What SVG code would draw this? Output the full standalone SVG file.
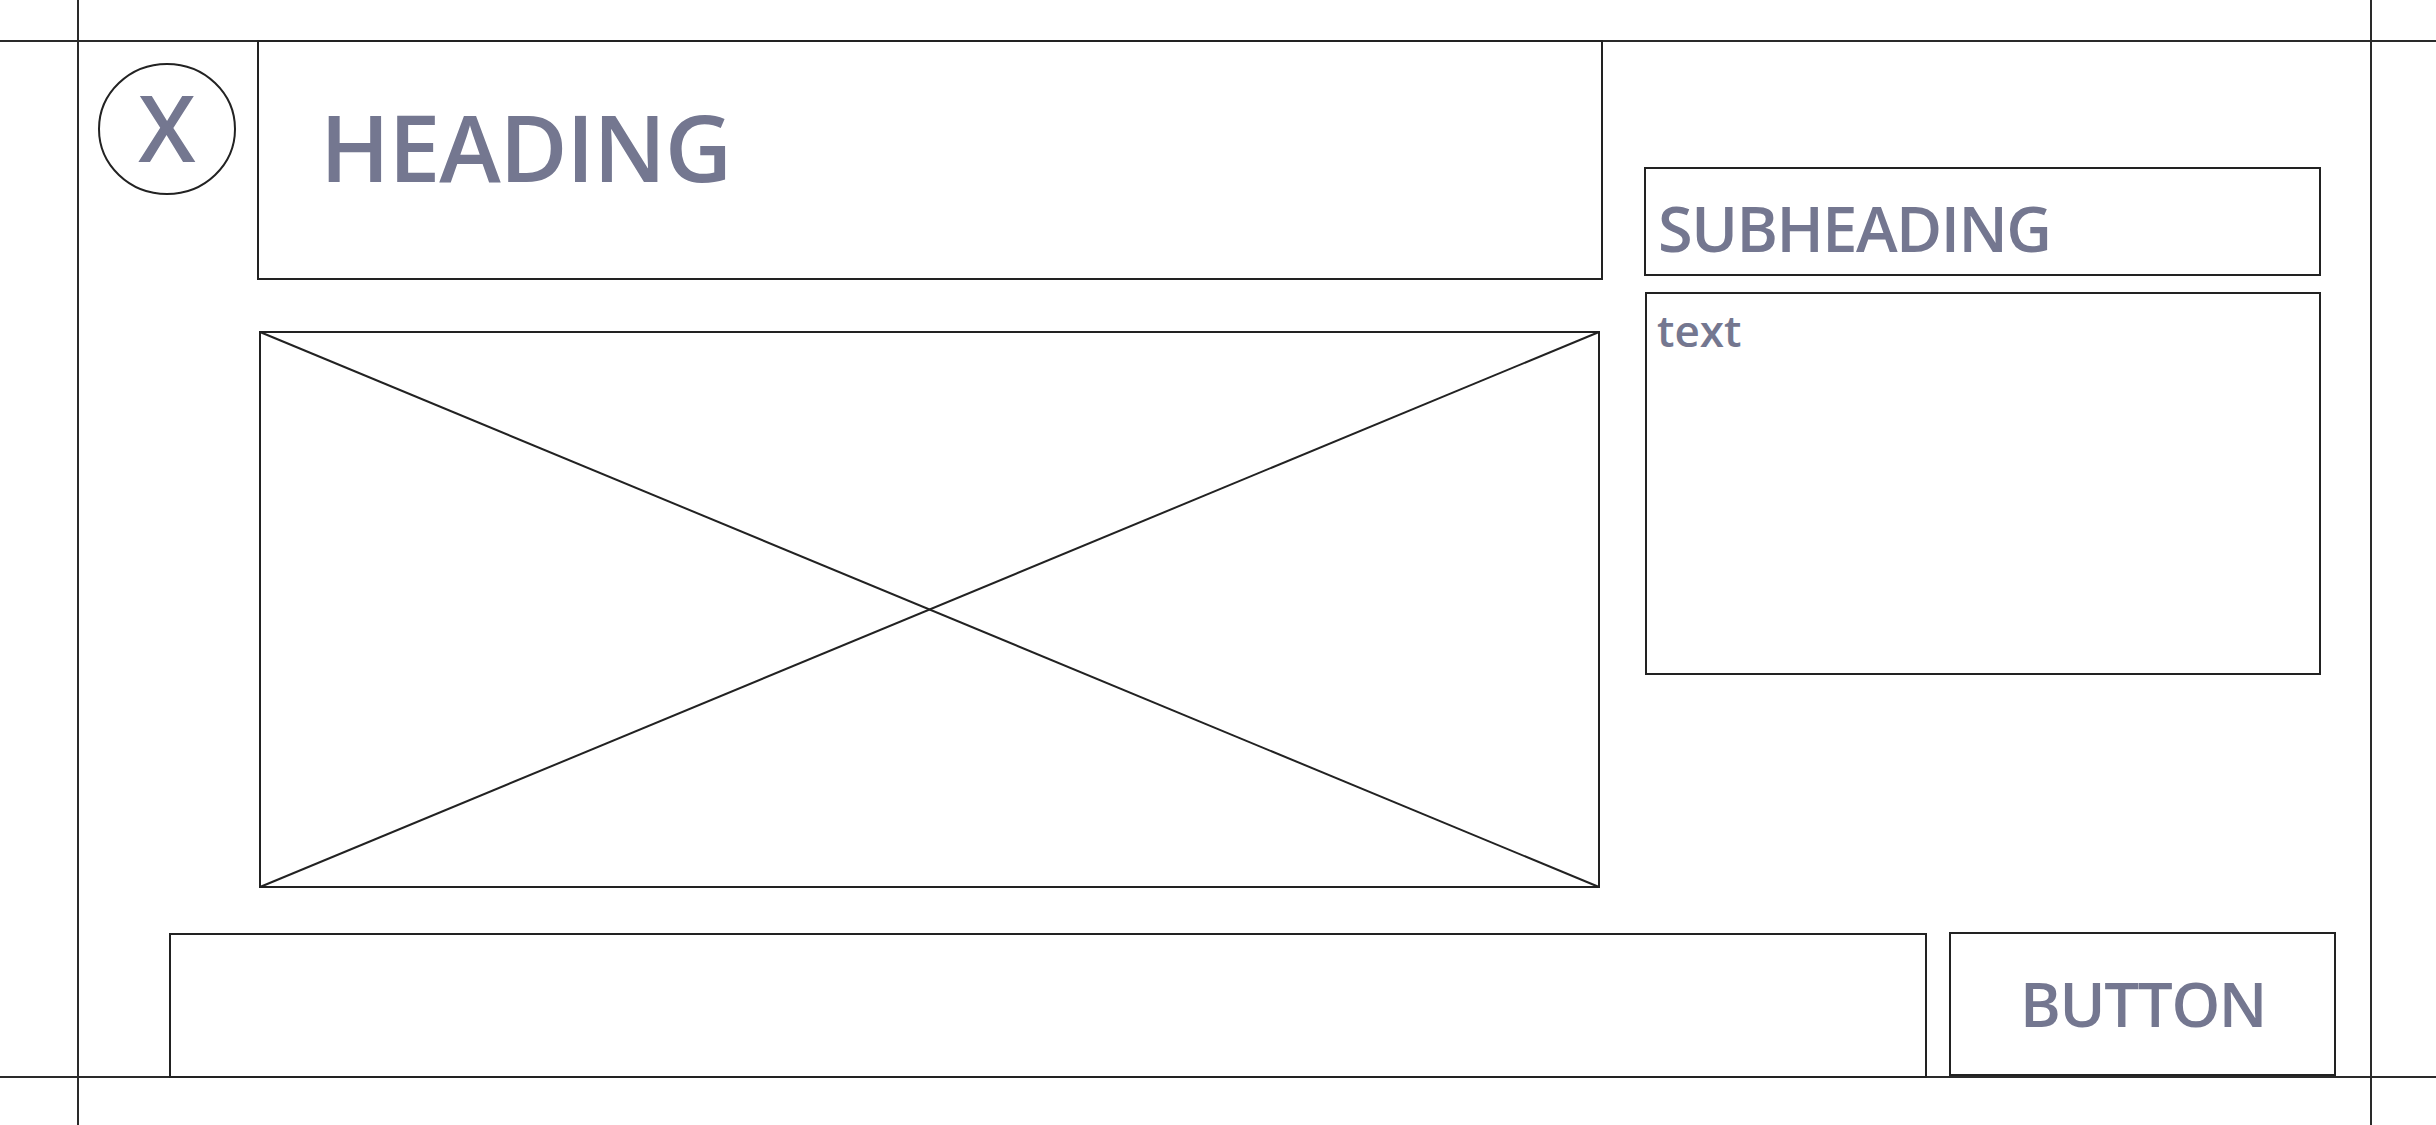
<svg xmlns="http://www.w3.org/2000/svg" width="2436" height="1125" viewBox="0 0 2436 1125">
<style>
.frame{stroke:#2a2a2a;stroke-width:2;fill:none}
.box{stroke:#222;stroke-width:2;fill:none}
.lbl{font-family:"Open Sans","Noto Sans",sans-serif;font-weight:600;fill:#747790}
</style>
<rect width="2436" height="1125" fill="#ffffff"/>
<g id="guides">
<line class="frame" x1="0" y1="41" x2="2436" y2="41"/>
<line class="frame" x1="0" y1="1077" x2="2436" y2="1077"/>
<line class="frame" x1="78" y1="0" x2="78" y2="1125"/>
<line class="frame" x1="2371" y1="0" x2="2371" y2="1125"/>
</g>
<g id="close">
<ellipse class="box" cx="167" cy="129" rx="68" ry="65"/>
<text class="lbl" x="167" y="162" font-size="92" text-anchor="middle">X</text>
</g>
<g id="heading">
<rect class="box" x="258" y="41" width="1344" height="238"/>
<text class="lbl" x="320" y="182" font-size="93" letter-spacing="-1.3">HEADING</text>
</g>
<g id="image">
<rect class="box" x="260" y="332" width="1339" height="555"/>
<line class="box" x1="260" y1="332" x2="1599" y2="887"/>
<line class="box" x1="1599" y1="332" x2="260" y2="887"/>
</g>
<g id="subheading">
<rect class="box" x="1645" y="168" width="675" height="107"/>
<text class="lbl" x="1658" y="252" font-size="63" letter-spacing="-1.5">SUBHEADING</text>
</g>
<g id="textbox">
<rect class="box" x="1646" y="293" width="674" height="381"/>
<text class="lbl" x="1657" y="347" font-size="44">text</text>
</g>
<g id="input">
<rect class="box" x="170" y="934" width="1756" height="143"/>
</g>
<g id="button">
<rect class="box" x="1950" y="933" width="385" height="142"/>
<text class="lbl" x="2143" y="1027" font-size="62" text-anchor="middle" letter-spacing="-1.4">BUTTON</text>
</g>
<g id="connectors"></g>
</svg>
